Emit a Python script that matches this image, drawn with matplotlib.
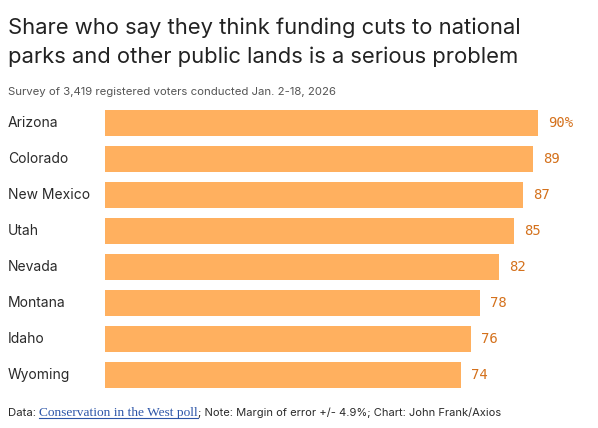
import matplotlib
matplotlib.use("Agg")
import matplotlib.pyplot as plt

states = ["Arizona", "Colorado", "New Mexico", "Utah", "Nevada", "Montana", "Idaho", "Wyoming"]
shares = [90, 89, 87, 85, 82, 78, 76, 74]

W, H = 598, 428
fig = plt.figure(figsize=(W / 100, H / 100), dpi=100)
fig.patch.set_facecolor("white")

# axes spans 105..586 px horizontally, 105..393 px vertically
ax = fig.add_axes([105 / W, 1 - 393 / H, 481 / W, 288 / H])
ax.barh(range(len(states)), shares, height=26 / 36, color="#ffb05f", zorder=2)
ax.set_xlim(0, 100)
ax.set_ylim(len(states) - 0.5, -0.5)
ax.axis("off")

for i, (s, v) in enumerate(zip(states, shares)):
    lab = "%d%%" % v if i == 0 else "%d" % v
    ax.annotate(lab, (v, i), xytext=(10, 0), textcoords="offset pixels",
                ha="left", va="center", fontsize=10, color="#d4711c",
                family="DejaVu Sans Mono")
    fig.text(8 / W, 1 - (123 + i * 36) / H, s, ha="left", va="center",
             fontsize=10, color="#2a2a2a", family="Inter")

title_lines = ["Share who say they think funding cuts to national",
               "parks and other public lands is a serious problem"]
for k, line in enumerate(title_lines):
    fig.text(8 / W, 1 - (34 + k * 29) / H, line, ha="left", va="baseline",
             fontsize=15.8, color="#222222", family="Inter")
fig.text(8 / W, 1 - 95 / H, "Survey of 3,419 registered voters conducted Jan. 2-18, 2026",
         ha="left", va="baseline", fontsize=8.2, color="#555555", family="Inter")

# footer pieces placed one after another
fig.canvas.draw()
r = fig.canvas.get_renderer()
x = 8
y = 1 - 416 / H
parts = [("Data: ", "Inter", "#2a2a2a", False, 8.2),
         ("Conservation in the West poll", "Liberation Serif", "#2c55a8", True, 9.6),
         ("; Note: Margin of error +/- 4.9%; Chart: John Frank/Axios", "Inter", "#2a2a2a", False, 8.0)]
for txt, fam, col, ul, fs in parts:
    t = fig.text(x / W, y, txt, ha="left", va="baseline", fontsize=fs, color=col, family=fam)
    bb = t.get_window_extent(r)
    if ul:
        fig.add_artist(plt.Line2D([x / W, bb.x1 / W], [y - 2 / H, y - 2 / H],
                                  color=col, lw=0.8, transform=fig.transFigure))
    x = bb.x1

fig.savefig("out.png", dpi=100)
